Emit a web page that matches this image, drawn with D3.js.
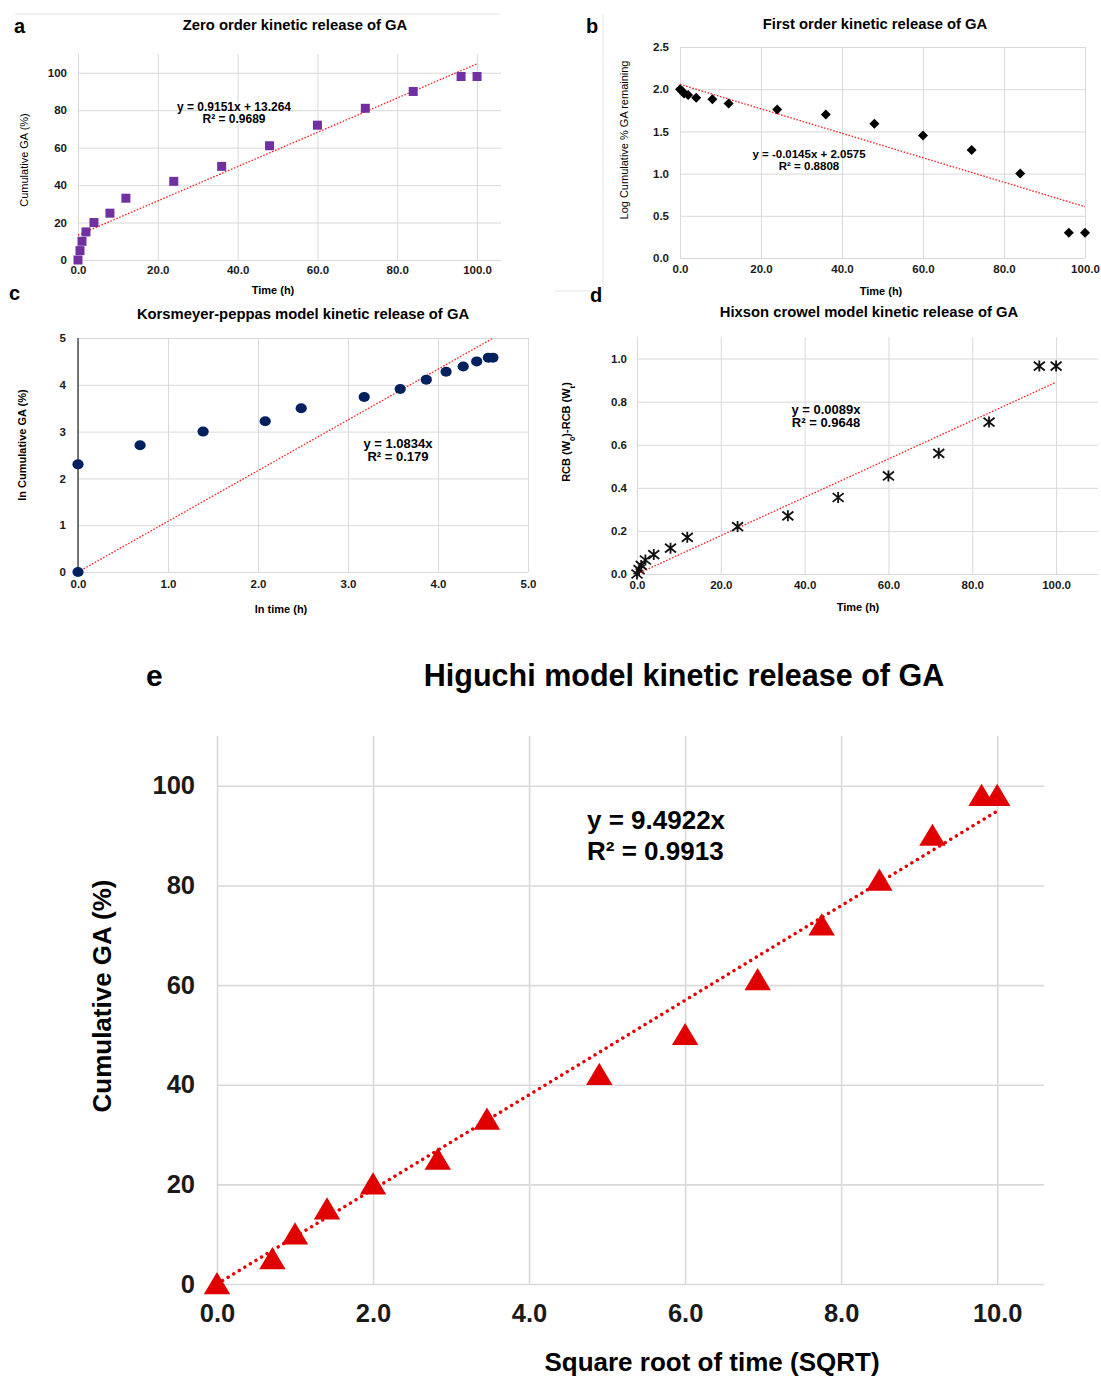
<!DOCTYPE html>
<html>
<head>
<meta charset="utf-8">
<script src="https://d3js.org/d3.v7.min.js"></script>
<style>
body { margin: 0; background: #fff; }
svg { font-family: "Liberation Sans", Arial, sans-serif; }
.grid line { stroke: #d9d9d9; stroke-width: 1; }
.grid text { font-weight: bold; fill: #1a1a1a; }
</style>
</head>
<body>
<div id="mainer"></div>
<script>
// sampling times (h) and the readings taken off each panel
const hours = [0, 0.5, 1, 2, 4, 8, 12, 24, 36, 48, 60, 72, 84, 96, 100];
const cumulativeGA = [0, 5, 10, 15, 20, 25, 33, 42, 50, 61, 72, 81, 90, 98, 98];
const logRemaining = [2.0, 1.98, 1.95, 1.93, 1.90, 1.88, 1.83, 1.76, 1.70, 1.59, 1.45, 1.28, 1.0, 0.3, 0.3];
const lnTime = [0, 0, 0.69, 1.39, 2.08, 2.48, 3.18, 3.58, 3.87, 4.09, 4.28, 4.43, 4.56, 4.61];
const lnCumulative = [0, 2.30, 2.71, 3.00, 3.22, 3.50, 3.74, 3.91, 4.11, 4.28, 4.39, 4.50, 4.58, 4.58];
const hixson = [0, 0.02, 0.04, 0.065, 0.09, 0.12, 0.17, 0.22, 0.27, 0.355, 0.455, 0.56, 0.705, 0.965, 0.965];
const sqrtTime = [0, 0.71, 1.0, 1.41, 2.0, 2.83, 3.46, 4.90, 6.0, 6.93, 7.75, 8.49, 9.17, 9.80, 10.0];

// tick labels
const ticksTime = [0, 20, 40, 60, 80, 100];
const ticksCum = [0, 20, 40, 60, 80, 100];
const ticksLog = [0, 0.5, 1.0, 1.5, 2.0, 2.5];
const ticksLnTime = [0, 1, 2, 3, 4, 5];
const ticksLnCum = [0, 1, 2, 3, 4, 5];
const ticksHix = [0, 0.2, 0.4, 0.6, 0.8, 1.0];
const ticksSqrt = [0, 2, 4, 6, 8, 10];

// trendline fits [slope, intercept, x end]
const fitZero = [0.9151, 13.264, 100];
const fitFirst = [-0.0145, 2.0575, 100];
const fitKP = [1.0834, 0, 4.61];
const fitHix = [0.0089, 0, 100];
const fitHiguchi = [9.4922, 0, 10];

let width = 1101, height = 1376;
let svg = d3.select('#mainer').append('svg')
  .attr('width', width).attr('height', height);

// faint chart borders from the original figure
svg.append('line').attr('x1', 15).attr('y1', 14).attr('x2', 500).attr('y2', 14).attr('stroke', '#e3e3e3');
svg.append('line').attr('x1', 603).attr('y1', 14).attr('x2', 603).attr('y2', 290).attr('stroke', '#e3e3e3');
svg.append('line').attr('x1', 555).attr('y1', 291).attr('x2', 592).attr('y2', 291).attr('stroke', '#e3e3e3');

function marker(kind, s) {
  if (kind == 'square') return `M${-s},${-s}H${s}V${s}H${-s}Z`;
  if (kind == 'diamond') return `M0,${-s}L${s},0L0,${s}L${-s},0Z`;
  if (kind == 'triangle') return `M0,${-s}L${s * 1.1},${s * 0.85}L${-s * 1.1},${s * 0.85}Z`;
  if (kind == 'star') return `M${-s},${-s * 0.8}L${s},${s * 0.8}M${-s},${s * 0.8}L${s},${-s * 0.8}M0,${-s}V${s}`;
}

function drawPanel(p) {
  let x = d3.scaleLinear().domain(p.xDomain).range([p.left, p.right]);
  let y = d3.scaleLinear().domain(p.yDomain).range([p.bottom, p.top]);
  let g = svg.append('g');

  let gx = g.append('g').attr('class', 'grid')
    .attr('transform', `translate(0,${p.bottom})`)
    .call(d3.axisBottom(x).tickValues(p.xTicks).tickFormat(d3.format(p.xFmt))
      .tickSize(-(p.bottom - p.top)).tickPadding(p.xPad));
  gx.select('.domain').remove();
  gx.selectAll('text').style('font-size', p.tickFont + 'px');
  gx.selectAll('line').style('stroke-width', p.gridW);

  let gy = g.append('g').attr('class', 'grid')
    .attr('transform', `translate(${p.left},0)`)
    .call(d3.axisLeft(y).tickValues(p.yTicks).tickFormat(d3.format(p.yFmt))
      .tickSize(-(p.right - p.left)).tickPadding(p.yPad));
  gy.select('.domain').remove();
  gy.selectAll('text').style('font-size', p.tickFont + 'px');
  gy.selectAll('line').style('stroke-width', p.gridW);

  if (p.axisColor) {
    g.append('line').attr('x1', x(p.xDomain[0])).attr('x2', x(p.xDomain[0]))
      .attr('y1', p.top).attr('y2', p.bottom).attr('stroke', p.axisColor).attr('stroke-width', 1.2);
  }

  // trendline
  let fit = p.fit;
  g.append('line')
    .attr('x1', x(0)).attr('y1', y(fit[1]))
    .attr('x2', x(fit[2])).attr('y2', y(fit[0] * fit[2] + fit[1]))
    .attr('stroke', p.trendColor).attr('stroke-width', p.trendW)
    .attr('stroke-dasharray', p.trendDash).attr('stroke-linecap', p.trendCap || 'butt');

  // points
  let pts = p.xs.map((v, i) => [v, p.ys[i]]);
  let sel = g.selectAll(null).data(pts).enter();
  if (p.marker == 'ellipse') {
    sel.append('ellipse')
      .attr('cx', d => x(d[0])).attr('cy', d => y(d[1]))
      .attr('rx', p.size + 0.6).attr('ry', p.size).attr('fill', p.color);
  } else {
    sel.append('path')
      .attr('transform', d => `translate(${x(d[0])},${y(d[1])})`)
      .attr('d', marker(p.marker, p.size))
      .attr('fill', p.marker == 'star' ? 'none' : p.color)
      .attr('stroke', p.marker == 'star' ? p.color : 'none')
      .attr('stroke-width', 1.8);
  }

  // texts
  svg.append('text').attr('x', p.letter[0]).attr('y', p.letter[1])
    .style('font-size', p.letterFont + 'px').style('font-weight', 'bold').text(p.letter[2]);
  svg.append('text').attr('x', p.title[0]).attr('y', p.title[1]).attr('text-anchor', 'middle')
    .style('font-size', p.titleFont + 'px').style('font-weight', 'bold').text(p.title[2]);
  svg.append('text').attr('x', p.xLabel[0]).attr('y', p.xLabel[1]).attr('text-anchor', 'middle')
    .style('font-size', p.labelFont + 'px').style('font-weight', 'bold').text(p.xLabel[2]);
  let yl = svg.append('text')
    .attr('transform', `translate(${p.yLabel[0]},${p.yLabel[1]}) rotate(-90)`)
    .attr('text-anchor', 'middle')
    .style('font-size', p.labelFont + 'px').style('font-weight', p.yLabelWeight || 'bold');
  if (Array.isArray(p.yLabel[2])) {
    p.yLabel[2].forEach(part => {
      let t = yl.append('tspan').text(part[0]);
      if (part[1]) t.attr('baseline-shift', 'sub').style('font-size', (p.labelFont * 0.7) + 'px');
    });
  } else {
    yl.text(p.yLabel[2]);
  }
  let eq = svg.append('text').attr('text-anchor', p.eqAnchor || 'middle')
    .style('font-size', p.eqFont + 'px').style('font-weight', 'bold');
  p.eq.forEach((line, i) => {
    eq.append('tspan').attr('x', p.eqPos[0]).attr('y', p.eqPos[1] + i * p.eqGap).text(line);
  });
}

const small = { tickFont: 11.5, titleFont: 14.8, labelFont: 11, eqFont: 12, letterFont: 20, gridW: 1,
  trendColor: '#ff2020', trendW: 1.3, trendDash: '1.6,1.6' };

drawPanel(Object.assign({}, small, {
  left: 78, right: 501, top: 54, bottom: 260,
  xDomain: [0, 106], yDomain: [0, 110], xTicks: ticksTime, yTicks: ticksCum,
  xFmt: '.1f', yFmt: 'd', xPad: 6, yPad: 11,
  xs: hours, ys: cumulativeGA, marker: 'square', size: 4.5, color: '#7030a0',
  fit: fitZero,
  letter: [14, 33, 'a'], title: [295, 30, 'Zero order kinetic release of GA'],
  xLabel: [273, 294, 'Time (h)'], yLabel: [28, 160, 'Cumulative GA (%)'], yLabelWeight: 'normal',
  eq: ['y = 0.9151x + 13.264', 'R\u00b2 = 0.9689'], eqPos: [234, 111], eqGap: 11.5
}));

drawPanel(Object.assign({}, small, {
  left: 680, right: 1085, top: 47, bottom: 258, eqFont: 11.5,
  xDomain: [0, 100], yDomain: [0, 2.5], xTicks: ticksTime, yTicks: ticksLog,
  xFmt: '.1f', yFmt: '.1f', xPad: 7, yPad: 11,
  xs: hours, ys: logRemaining, marker: 'diamond', size: 5, color: '#000',
  fit: fitFirst,
  letter: [586, 33, 'b'], title: [875, 29, 'First order kinetic release of GA'],
  xLabel: [881, 295, 'Time (h)'], yLabel: [628, 140, 'Log Cumulative % GA remaining'], yLabelWeight: 'normal',
  eq: ['y = -0.0145x + 2.0575', 'R\u00b2 = 0.8808'], eqPos: [809, 158], eqGap: 11.5
}));

drawPanel(Object.assign({}, small, {
  left: 78, right: 528, top: 338, bottom: 572, eqFont: 13,
  xDomain: [0, 5], yDomain: [0, 5], xTicks: ticksLnTime, yTicks: ticksLnCum,
  xFmt: '.1f', yFmt: 'd', xPad: 8, yPad: 12,
  xs: lnTime, ys: lnCumulative, marker: 'ellipse', size: 5, color: '#002060',
  fit: fitKP, axisColor: '#222',
  letter: [9, 300, 'c'], title: [303, 319, 'Korsmeyer-peppas model kinetic release of GA'],
  xLabel: [281, 613, 'ln time (h)'], yLabel: [26, 445, 'ln Cumulative GA (%)'],
  eq: ['y = 1.0834x', 'R\u00b2 = 0.179'], eqPos: [398, 448], eqGap: 13
}));

drawPanel(Object.assign({}, small, {
  left: 637, right: 1098, top: 337, bottom: 574, eqFont: 13,
  xDomain: [0, 110], yDomain: [0, 1.1], xTicks: ticksTime, yTicks: ticksHix,
  xFmt: '.1f', yFmt: '.1f', xPad: 7, yPad: 10,
  xs: hours, ys: hixson, marker: 'star', size: 5.5, color: '#111',
  fit: fitHix,
  letter: [590, 302, 'd'], title: [869, 317, 'Hixson crowel model kinetic release of GA'],
  xLabel: [858, 611, 'Time (h)'],
  yLabel: [570, 432, [['RCB (W'], ['0', true], [')-RCB (W'], ['t', true], [')']]],
  eq: ['y = 0.0089x', 'R\u00b2 = 0.9648'], eqPos: [826, 414], eqGap: 12.5
}));

drawPanel({
  tickFont: 25.5, titleFont: 30.5, labelFont: 26, eqFont: 26, letterFont: 30, gridW: 1.6,
  trendColor: '#e80000', trendW: 3.4, trendDash: '0.1,6.4', trendCap: 'round',
  left: 217, right: 1044, top: 736, bottom: 1284,
  xDomain: [0, 10.6], yDomain: [0, 110], xTicks: ticksSqrt, yTicks: ticksCum,
  xFmt: '.1f', yFmt: 'd', xPad: 20, yPad: 22,
  xs: sqrtTime, ys: cumulativeGA, marker: 'triangle', size: 12, color: '#e00000',
  fit: fitHiguchi,
  letter: [146, 686, 'e'], title: [684, 686, 'Higuchi model kinetic release of GA'],
  xLabel: [712, 1371, 'Square root of time (SQRT)'], yLabel: [111, 996, 'Cumulative GA (%)'],
  eq: ['y = 9.4922x', 'R\u00b2 = 0.9913'], eqPos: [587, 829], eqGap: 31, eqAnchor: 'start'
});
</script>
</body>
</html>
